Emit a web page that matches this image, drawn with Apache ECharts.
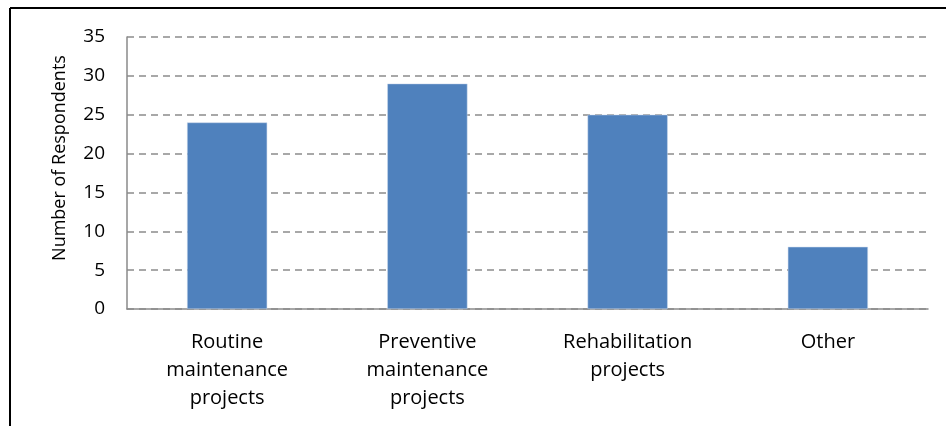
<!DOCTYPE html>
<html>
<head>
<meta charset="utf-8">
<script src="https://cdn.jsdelivr.net/npm/echarts@6/dist/echarts.min.js"></script>
<style>
  html, body { margin: 0; padding: 0; background: #fff; }
  #chart { width: 946px; height: 426px; }
</style>
</head>
<body>
<div id="chart"></div>
<script>
// categories and respondent counts
const categories = [
  'Routine\nmaintenance\nprojects',
  'Preventive\nmaintenance\nprojects',
  'Rehabilitation\nprojects',
  'Other'
]
const respondents = [24, 29, 25, 8]
const yTicks = [0, 5, 10, 15, 20, 25, 30, 35]

const chart = echarts.init(document.getElementById('chart'))

const fontFamily = '"Open Sans", "Noto Sans", sans-serif'

const option = {
  animation: false,
  backgroundColor: '#fff',
  grid: {
    left: 127,
    right: 18,
    top: 37,
    bottom: 117
  },
  // cropped frame: only the top and left edges are visible
  graphic: [
    {
      type: 'line',
      shape: { x1: 10, y1: 8, x2: 946, y2: 8 },
      style: { stroke: '#000', lineWidth: 2 }
    },
    {
      type: 'line',
      shape: { x1: 10, y1: 8, x2: 10, y2: 426 },
      style: { stroke: '#000', lineWidth: 2 }
    }
  ],
  xAxis: {
    type: 'category',
    data: categories,
    axisLine: { lineStyle: { color: '#8a8a8a', width: 1.5 } },
    axisTick: { show: false },
    axisLabel: {
      color: '#000',
      fontSize: 20,
      fontFamily: fontFamily,
      lineHeight: 28,
      margin: 19,
      interval: 0
    }
  },
  yAxis: {
    type: 'value',
    min: yTicks[0],
    max: yTicks[yTicks.length - 1],
    interval: 5,
    name: 'Number of Respondents',
    nameLocation: 'middle',
    nameGap: 58,
    nameRotate: 90,
    nameTextStyle: {
      color: '#000',
      fontSize: 18,
      fontFamily: fontFamily,
      padding: [0, 0, 0, 30]
    },
    axisLine: { show: true, lineStyle: { color: '#8a8a8a', width: 1.5 } },
    axisTick: { show: false },
    axisLabel: {
      color: '#000',
      fontSize: 19,
      fontFamily: fontFamily,
      margin: 22
    },
    splitLine: {
      lineStyle: { color: '#8c8c8c', width: 1.5, type: [7, 5] }
    }
  },
  series: [
    {
      type: 'bar',
      data: respondents,
      barWidth: '40%',
      itemStyle: {
        color: '#4f81bd',
        borderColor: '#c9d6ea',
        borderWidth: 0.5
      }
    }
  ]
}

chart.setOption(option)
</script>
</body>
</html>
